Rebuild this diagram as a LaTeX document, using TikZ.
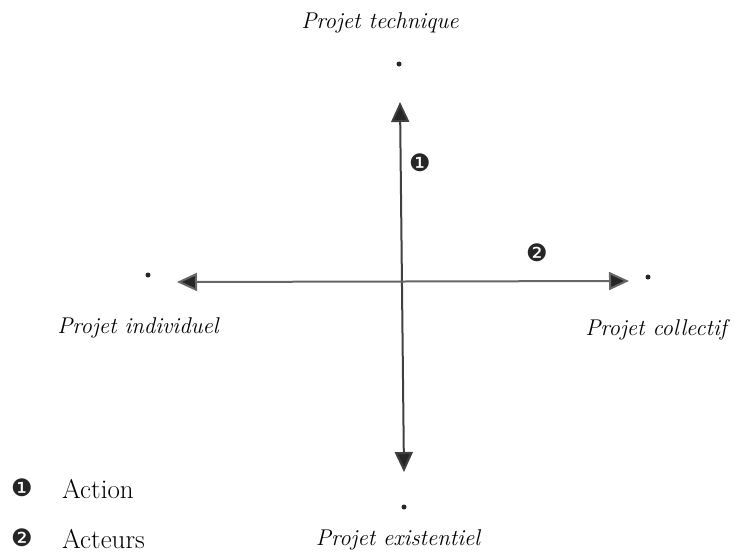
\documentclass[tikz,border=0pt]{standalone}
\usepackage{fontspec}
\newfontfamily\dingfont{DejaVu Sans}
\usetikzlibrary{arrows.meta}
\tikzset{
  axis/.style={line width=2pt, draw=black!75, {Triangle[length=20pt,width=18pt,fill=black!85]}-{Triangle[length=20pt,width=18pt,fill=black!85]}},
  pole/.style={circle, fill=black!85, inner sep=0pt, minimum size=5pt},
  polelabel/.style={font=\fontsize{22.8}{25}\selectfont\itshape, inner sep=0pt},
  marker/.style={font=\dingfont\fontsize{24}{26}\selectfont, text=black!85, inner sep=0pt},
  legendtext/.style={font=\fontsize{27}{30}\selectfont, inner sep=0pt, anchor=west}
}
\begin{document}
\begin{tikzpicture}[x=1pt,y=-1pt]
\useasboundingbox (0,0) rectangle (734,555);
% poles
\node[pole] (ptop) at (399,64) {};
\node[pole] (pbottom) at (404,507) {};
\node[pole] (pleft) at (148,275) {};
\node[pole] (pright) at (648,277) {};
% axis tips
\coordinate (ttop) at (400,102);
\coordinate (tbottom) at (404,472);
\coordinate (tleft) at (177,282);
\coordinate (tright) at (629,281);
\draw[axis] (tbottom) -- (ttop);
\draw[axis, draw=black!60] (tleft) -- (tright);
% labels
\node[polelabel] (ltop) at (380,23) {Projet technique};
\node[polelabel] (lbottom) at (398,540) {Projet existentiel};
\node[polelabel] (lleft) at (138,328) {Projet individuel};
\node[polelabel] (lright) at (656,330) {Projet collectif};
% markers
\node[marker] (m1) at (420,163) {❶};
\node[marker] (m2) at (537,253) {❷};
% legend
\node[marker] (k1) at (22,488) {❶};
\node[marker] (k2) at (22,538) {❷};
\node[legendtext] (t1) at (62,489) {Action};
\node[legendtext] (t2) at (62,539) {Acteurs};
\end{tikzpicture}
\end{document}
